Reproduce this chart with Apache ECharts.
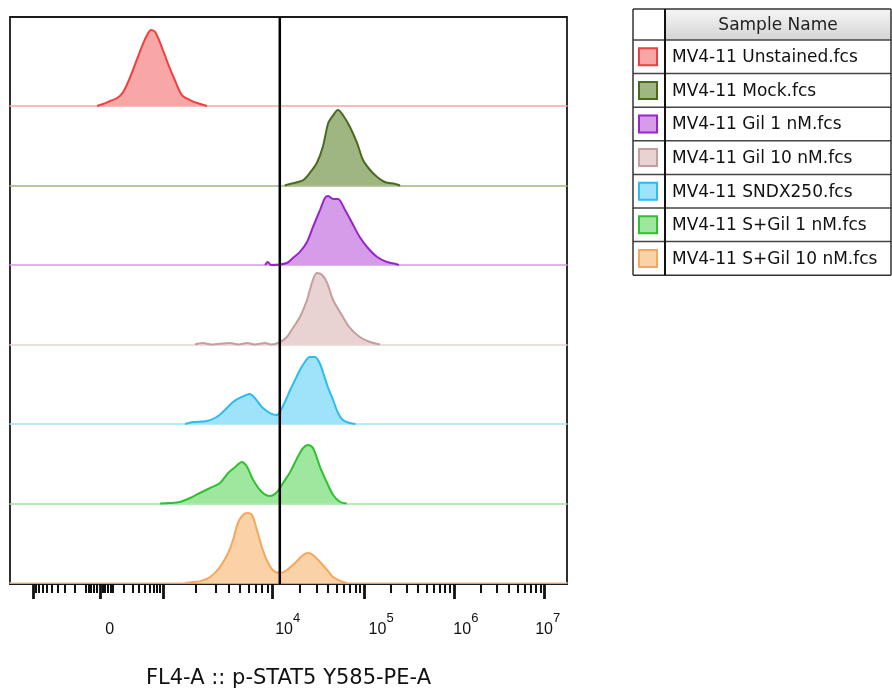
<!DOCTYPE html>
<html>
<head>
<meta charset="utf-8">
<script src="https://cdn.jsdelivr.net/npm/echarts@6/dist/echarts.min.js"></script>
<style>
  html, body { margin: 0; padding: 0; background: #fff; }
  #chart { width: 892px; height: 688px; }
</style>
</head>
<body>
<div id="chart"></div>
<script>
// sample names, top lane first
var sampleNames = ['MV4-11 Unstained.fcs', 'MV4-11 Mock.fcs', 'MV4-11 Gil 1 nM.fcs', 'MV4-11 Gil 10 nM.fcs',
    'MV4-11 SNDX250.fcs', 'MV4-11 S+Gil 1 nM.fcs', 'MV4-11 S+Gil 10 nM.fcs'];

// histograms: [channel (0-1024), % of lane height]
var unstained = [[160, 0], [171, 2.5], [184, 6.3], [197, 10], [208, 17.6], [221, 36.5], [233, 57.9], [245, 79.2],
    [254, 91.8], [259, 95.6], [267, 93], [279, 74.2], [290, 54], [303, 32.7], [316, 13.8], [331, 7.5], [344, 3.8], [362, 0]];
var mock = [[505, 0], [515, 1.9], [539, 6.9], [551, 15.7], [564, 28.3], [575, 48.4], [585, 78.6], [592, 86.2], [603, 95],
    [612, 88.7], [625, 73.6], [638, 53.5], [649, 32.1], [662, 19.5], [675, 10.7], [689, 4.4], [708, 1.9], [717, 0]];
var gil1 = [[469, 0], [474, 3.8], [480, 0], [509, 2.5], [520, 8.8], [533, 16.4], [546, 28.9], [557, 47.8], [570, 69.2],
    [579, 84.3], [585, 86.8], [594, 83], [603, 83], [616, 69.2], [629, 52.8], [643, 35.2], [658, 21.4], [675, 10.1],
    [693, 3.8], [708, 1.5], [715, 0]];
var gil10 = [[340, 0], [355, 1.9], [370, 0], [404, 1.9], [420, 0], [436, 1.9], [450, 0], [469, 1.9], [480, 0], [496, 3.1],
    [509, 9.4], [520, 20.8], [533, 34.6], [546, 56], [555, 77.4], [564, 90], [574, 87.4], [583, 77.4], [594, 56],
    [610, 37.1], [625, 20.8], [643, 9.4], [662, 3.1], [680, 0]];
var sndx = [[322, 0], [336, 2.5], [362, 3.8], [380, 8.8], [395, 17.6], [410, 27.7], [426, 34], [441, 37.7], [450, 32.7],
    [463, 21.4], [478, 13.8], [491, 11.3], [498, 17.6], [507, 30.2], [515, 42.8], [524, 55.3], [533, 67.9], [542, 78],
    [551, 84.3], [561, 84.3], [570, 75.5], [577, 61.6], [585, 45.3], [594, 30.2], [603, 13.8], [612, 5], [625, 1.3], [635, 0]];
var sGil1 = [[276, 0], [294, 0.6], [312, 1.9], [331, 6.9], [349, 13.2], [368, 19.5], [386, 25.8], [401, 38.4], [414, 45.9],
    [426, 52.2], [436, 45.9], [447, 29.6], [463, 14.5], [478, 9.4], [491, 14.5], [502, 25.8], [515, 39.6], [528, 57.2],
    [539, 69.8], [548, 73.6], [557, 69.8], [570, 45.9], [583, 25.8], [594, 10.7], [607, 1.9], [619, 0]];
var sGil10 = [[322, 0], [336, 1.3], [349, 2], [368, 7.5], [386, 20.1], [401, 37.7], [410, 54.1], [419, 75.5], [428, 85.5],
    [437, 88], [445, 85.5], [454, 66.7], [463, 45.3], [472, 28.9], [483, 16.4], [496, 12.6], [509, 16.4], [524, 25.2],
    [539, 35.2], [548, 37.7], [557, 35.2], [570, 26.4], [583, 16.4], [594, 7.5], [612, 1.3], [620, 0]];
var histograms = [unstained, mock, gil1, gil10, sndx, sGil1, sGil10];

var gateChannel = 496;

// axis ticks (fluorescence values) and labels
var majorTickValues = [-1000, 0, 1e3, 1e4, 1e5, 1e6, 1e7];
var labelValues = [0, 1e4, 1e5, 1e6, 1e7];
var labelExponents = [null, 4, 5, 6, 7];

var strokeColors = ['#ee4040', '#4a6b1e', '#9b24c8', '#c79d9d', '#2bbdf0', '#2ec22e', '#f4a85c'];
var fillColors = ['#f8a6a6', '#9fb582', '#d59ce9', '#e9d2d2', '#9fe3fb', '#9fe79f', '#fbd1a7'];

// ---- layout ----
var plot = {left: 10, top: 17, width: 557, height: 567};
var laneStep = 79.5;
var chMax = 1024;
var pxPerCh = plot.width / chMax;
var labelNudgePx = [10, 15, 17, 12, 3];

// biexponential-ish display transform: value -> channel
var zeroCh = 165, negCh = 42;
var decadeCh = [281, 483, 651, 816, 983]; // 1e3 .. 1e7
function toChannel(v) {
    if (v >= 1000) {
        var lg = Math.log10(v), k = Math.floor(lg) - 3;
        if (k >= decadeCh.length - 1) return decadeCh[decadeCh.length - 1];
        return decadeCh[k] + (lg - Math.floor(lg)) * (decadeCh[k + 1] - decadeCh[k]);
    }
    var w = 200, a = Math.asinh(Math.abs(v) / w) / Math.asinh(1000 / w);
    return v >= 0 ? zeroCh + a * (decadeCh[0] - zeroCh) : zeroCh - a * (zeroCh - negCh);
}

var minorTickValues = [];
for (var m = 1; m <= 9; m++) { minorTickValues.push(m * 100, -m * 100); }
[20, 40, 60, 80].forEach(function (v) { minorTickValues.push(v, -v); });
for (var d = 3; d <= 6; d++) {
    for (var k = 2; k <= 9; k++) { minorTickValues.push(k * Math.pow(10, d)); }
}

var majorCh = majorTickValues.map(toChannel);
var minorCh = minorTickValues.map(toChannel);
var labelCh = labelValues.map(function (v, i) { return toChannel(v) + labelNudgePx[i] / pxPerCh; });

var grids = [{left: plot.left, top: plot.top, width: plot.width, height: plot.height, outerBoundsMode: 'none',
    show: true, borderColor: '#1a1a1a', borderWidth: 1.8, backgroundColor: 'transparent'}];
var xAxes = [
    {
        gridIndex: 0, type: 'value', min: 0, max: chMax, position: 'bottom',
        axisLine: {show: true, lineStyle: {color: '#1a1a1a', width: 1.8}},
        splitLine: {show: false},
        axisTick: {show: true, customValues: majorCh, length: 15, lineStyle: {color: '#111', width: 2.8}},
        axisLabel: {
            show: true, customValues: labelCh, margin: 28,
            formatter: function (v) {
                var best = 0;
                labelCh.forEach(function (c, i) { if (Math.abs(c - v) < Math.abs(labelCh[best] - v)) best = i; });
                var e = labelExponents[best];
                return e == null ? '{n|0}' : '{n|10}{s|' + e + '}';
            },
            rich: {
                n: {fontFamily: 'Liberation Sans', fontSize: 16, color: '#111', lineHeight: 26, verticalAlign: 'bottom'},
                s: {fontFamily: 'Liberation Sans', fontSize: 13, color: '#111', lineHeight: 26, verticalAlign: 'top'}
            }
        },
        name: 'FL4-A :: p-STAT5 Y585-PE-A', nameLocation: 'middle', nameGap: 84,
        nameTextStyle: {fontFamily: 'DejaVu Sans', fontSize: 21, color: '#111'}
    },
    {
        gridIndex: 0, type: 'value', min: 0, max: chMax, position: 'bottom',
        axisLine: {show: false}, splitLine: {show: false}, axisLabel: {show: false},
        axisTick: {show: true, customValues: minorCh, length: 9, lineStyle: {color: '#111', width: 2}}
    }
];
var yAxes = [{gridIndex: 0, type: 'value', min: 0, max: 1, show: false}];
var series = [];

histograms.forEach(function (data, i) {
    var baseline = plot.top + plot.height - 1 - laneStep * (histograms.length - 1 - i);
    grids.push({left: plot.left, top: baseline - laneStep, width: plot.width, height: laneStep, outerBoundsMode: 'none'});
    xAxes.push({
        gridIndex: i + 1, type: 'value', min: 0, max: chMax,
        axisLine: {show: true, lineStyle: {color: fillColors[i], width: 1.5}},
        axisTick: {show: false}, axisLabel: {show: false}, splitLine: {show: false}
    });
    yAxes.push({gridIndex: i + 1, type: 'value', min: 0, max: 100, show: false});
    series.push({
        name: sampleNames[i], type: 'line', xAxisIndex: i + 2, yAxisIndex: i + 1,
        data: data, smooth: 0.3, showSymbol: false, clip: false, silent: true,
        lineStyle: {color: strokeColors[i], width: 2},
        areaStyle: {color: fillColors[i], opacity: 1},
        z: 2
    });
});

// gate line across all lanes
series.push({
    type: 'line', xAxisIndex: 0, yAxisIndex: 0, showSymbol: false, silent: true,
    data: [[gateChannel, 0], [gateChannel, 1]],
    lineStyle: {color: '#000', width: 2.5}, z: 10
});

// sample name table
var table = {x0: 633, col: 665, x1: 891, top: 9, headH: 31, rowH: 33.6};
var tableBottom = table.top + table.headH + table.rowH * sampleNames.length;
var graphics = [
    {type: 'rect', shape: {x: table.col, y: table.top, width: table.x1 - table.col, height: table.headH},
        style: {fill: new echarts.graphic.LinearGradient(0, 0, 0, 1, [{offset: 0, color: '#f6f6f6'}, {offset: 1, color: '#d4d4d4'}])}},
    {type: 'text', style: {text: 'Sample Name', x: (table.col + table.x1) / 2, y: table.top + table.headH / 2 + 1,
        align: 'center', verticalAlign: 'middle', font: '17px "DejaVu Sans"', fill: '#222'}}
];
function hLine(y, w, c) {
    return {type: 'line', shape: {x1: table.x0, y1: y, x2: table.x1, y2: y}, style: {stroke: c, lineWidth: w}};
}
function vLine(x, w, c) {
    return {type: 'line', shape: {x1: x, y1: table.top, x2: x, y2: tableBottom}, style: {stroke: c, lineWidth: w}};
}
graphics.push(hLine(table.top, 1.5, '#333'));
sampleNames.forEach(function (name, i) {
    var y0 = table.top + table.headH + table.rowH * i;
    graphics.push(hLine(y0, 1.5, '#444'));
    graphics.push({type: 'rect', shape: {x: 639, y: y0 + (table.rowH - 17) / 2, width: 18, height: 17},
        style: {fill: fillColors[i], stroke: strokeColors[i], lineWidth: 2}});
    graphics.push({type: 'text', style: {text: name, x: 672, y: y0 + table.rowH / 2 + 1,
        verticalAlign: 'middle', font: '17px "DejaVu Sans"', fill: '#111'}});
});
graphics.push(hLine(tableBottom, 1.5, '#333'));
graphics.push(vLine(table.x0, 1.5, '#333'));
graphics.push(vLine(table.col, 2, '#111'));
graphics.push(vLine(table.x1, 1.5, '#333'));

var myChart = echarts.init(document.getElementById('chart'));
myChart.setOption({
    backgroundColor: '#fff',
    animation: false,
    grid: grids,
    xAxis: xAxes,
    yAxis: yAxes,
    series: series,
    graphic: graphics
});
</script>
</body>
</html>
